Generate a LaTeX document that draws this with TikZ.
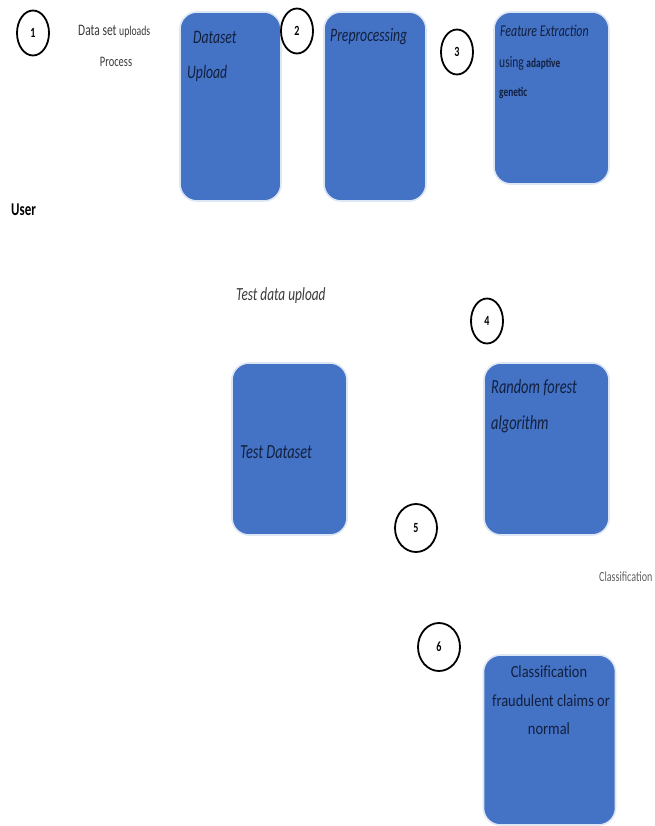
\documentclass[tikz,border=0pt]{standalone}
\usepackage{fontspec}
\usetikzlibrary{shapes.geometric}
\newfontfamily\calfnt[FakeStretch=0.72]{Carlito}
\newfontfamily\calhandfnt[FakeStretch=0.85,Ligatures=NoCommon]{Carlito}
\definecolor{boxblue}{HTML}{4472C4}
\definecolor{boxedge}{HTML}{DCE6F5}
\definecolor{navy}{HTML}{12203F}
\definecolor{grayt}{HTML}{3A3A3A}
\tikzset{
  blockbox/.style={draw=boxedge, line width=1.6pt, fill=boxblue, rounded corners=17pt, inner sep=0pt},
  numcirc/.style={ellipse, draw=black, line width=1.8pt, fill=white, minimum width=32pt, minimum height=45pt, inner sep=0pt, font=\calfnt\bfseries\fontsize{14}{16}\selectfont},
  bigcirc/.style={numcirc, minimum width=42pt, minimum height=48pt},
  boxtext/.style={text=navy, font=\calfnt\itshape\fontsize{19}{22}\selectfont, inner sep=0pt},
  handtext/.style={text=navy, font=\calhandfnt\fontsize{17}{19}\selectfont, inner sep=0pt},
  plaintext/.style={text=grayt, font=\calfnt\fontsize{16}{18}\selectfont, inner sep=0pt}
}
\begin{document}
\begin{tikzpicture}[x=1pt,y=-1pt]
\useasboundingbox (0,0) rectangle (654,826);
\fill[white] (0,0) rectangle (654,826);
% boxes
\node[blockbox, minimum width=101pt, minimum height=189pt] (bUpload) at (230.5,106.5) {};
\node[blockbox, minimum width=102pt, minimum height=189pt] (bPre) at (375,106.5) {};
\node[blockbox, minimum width=115pt, minimum height=172pt] (bFeat) at (551.5,98) {};
\node[blockbox, minimum width=115pt, minimum height=172pt] (bTest) at (289.5,449) {};
\node[blockbox, minimum width=125pt, minimum height=172pt] (bRF) at (546.5,449) {};
\node[blockbox, minimum width=132pt, minimum height=170pt] (bCls) at (549.5,740) {};
% circles
\node[numcirc] (c1) at (33,33) {1};
\node[numcirc] (c2) at (297,31) {2};
\node[numcirc] (c3) at (457,52) {3};
\node[numcirc] (c4) at (487,321) {4};
\node[bigcirc] (c5) at (416,528) {5};
\node[bigcirc] (c6) at (439,647) {6};
% outside texts
\node[plaintext, anchor=west] (tDataSet) at (78,31) {Data set {\fontsize{13.5}{15}\selectfont uploads}};
\node[plaintext, anchor=center, font=\calfnt\fontsize{14.5}{16}\selectfont] (tProcess) at (116,62) {Process};
\node[plaintext, anchor=west, text=black, font=\calfnt\bfseries\fontsize{18}{20}\selectfont] (tUser) at (11,210) {User};
\node[plaintext, anchor=west, font=\calfnt\itshape\fontsize{18.5}{20}\selectfont] (tTestUp) at (236,296) {Test data upload};
\node[plaintext, anchor=west, text=grayt!80, font=\calfnt\fontsize{14}{16}\selectfont] (tClsOut) at (599,577) {Classification};
% box texts
\node[boxtext, anchor=west] (tDataset) at (193,37) {Dataset};
\node[boxtext, anchor=west] (tUpload) at (187,73) {Upload};
\node[boxtext, anchor=west] (tPre) at (330,37) {Preprocessing};
\node[boxtext, anchor=west, font=\calfnt\itshape\fontsize{16.5}{18}\selectfont] (tFeat1) at (500,31) {Feature Extraction};
\node[boxtext, anchor=west, font=\calfnt\fontsize{16}{18}\selectfont] (tFeat2) at (499,63) {using {\bfseries\fontsize{13}{15}\selectfont adaptive}};
\node[boxtext, anchor=west, font=\calfnt\bfseries\fontsize{13}{15}\selectfont] (tFeat3) at (499,93) {genetic};
\node[boxtext, anchor=west, font=\calfnt\itshape\fontsize{20}{22}\selectfont] (tRF1) at (491,388) {Random forest};
\node[boxtext, anchor=west, font=\calfnt\itshape\fontsize{20}{22}\selectfont] (tRF2) at (491,424) {algorithm};
\node[boxtext, anchor=west, font=\calfnt\itshape\fontsize{20}{22}\selectfont] (tTest) at (240,452) {Test Dataset};
\node[handtext] (tCls1) at (549,672) {Classification};
\node[handtext] (tCls2) at (551,701) {fraudulent claims or};
\node[handtext] (tCls3) at (549,729) {normal};
\end{tikzpicture}
\end{document}
